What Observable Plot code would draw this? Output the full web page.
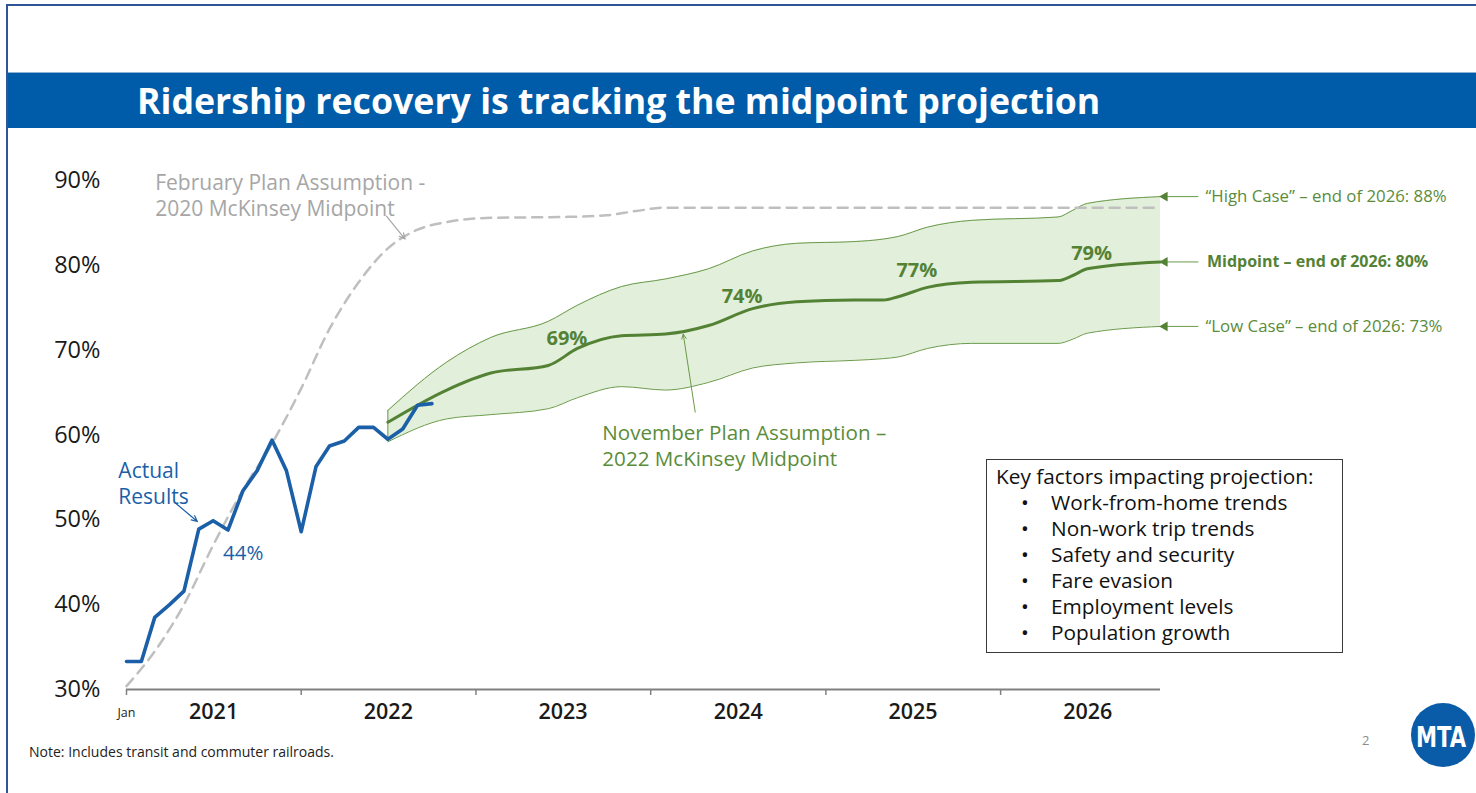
<!DOCTYPE html>
<html><head><meta charset="utf-8">
<script src="https://cdn.jsdelivr.net/npm/d3@7"></script>
<script src="https://cdn.jsdelivr.net/npm/@observablehq/plot@0.6"></script>
<style>
html,body{margin:0;padding:0;}
body{width:1476px;height:793px;overflow:hidden;background:#fff;position:relative;font-family:"Open Sans",sans-serif;}
.frame{position:absolute;left:6px;top:4px;width:1480px;height:800px;border-left:2px solid #2f5597;border-top:2px solid #2f5597;box-sizing:border-box;}
.titlebar{position:absolute;left:8px;top:72px;width:1468px;height:56px;background:#005ca9;border-top:1px solid #8fb3d3;box-sizing:border-box;}
.title{position:absolute;left:137px;top:72px;height:56px;line-height:56px;color:#fff;font-weight:700;font-size:35.7px;white-space:nowrap;}
#chart{position:absolute;left:0;top:140px;}
.key{position:absolute;left:986px;top:459px;width:357px;height:194px;border:1.5px solid #3a3a3a;box-sizing:border-box;font-size:20.8px;color:#111;padding-top:3px;line-height:26px;}
.key .h{margin-left:9px;}
.key .li{position:relative;padding-left:64px;}
.key .b{position:absolute;left:34px;}
.note{position:absolute;left:29px;top:743px;font-size:14px;line-height:18px;color:#222;}
.page{position:absolute;left:1362px;top:731px;font-size:13px;color:#8c8c8c;}
.logo{position:absolute;left:1405px;top:698px;}
</style>
</head><body>
<div class="frame"></div>
<div class="titlebar"></div>
<div class="title">Ridership recovery is tracking the midpoint projection</div>
<div id="chart"></div>
<div class="key">
  <div class="h">Key factors impacting projection:</div>
  <div class="li"><span class="b">•</span>Work-from-home trends</div>
  <div class="li"><span class="b">•</span>Non-work trip trends</div>
  <div class="li"><span class="b">•</span>Safety and security</div>
  <div class="li"><span class="b">•</span>Fare evasion</div>
  <div class="li"><span class="b">•</span>Employment levels</div>
  <div class="li"><span class="b">•</span>Population growth</div>
</div>
<div class="note">Note: Includes transit and commuter railroads.</div>
<div class="page">2</div>
<svg class="logo" width="71" height="75" viewBox="0 0 71 75">
  <circle cx="38" cy="37" r="32" fill="#0b5ca8"></circle>
  <text x="36" y="49" text-anchor="middle" fill="#fff" font-family="DejaVu Sans Condensed" font-weight="700" font-size="28" textLength="50" lengthAdjust="spacingAndGlyphs">MTA</text>
</svg>
<script>
// ---------- data ----------
const actualMonths = ["2021-01","2021-02","2021-03","2021-04","2021-05","2021-06","2021-07","2021-08","2021-09","2021-10","2021-11","2021-12",
                      "2022-01","2022-02","2022-03","2022-04","2022-05","2022-06","2022-07","2022-08","2022-09","2022-10"];
const actualValues = [33.3,33.3,38.5,40.0,41.6,48.9,49.9,48.8,53.4,55.8,59.4,55.8,
                      48.6,56.3,58.7,59.3,60.9,60.9,59.5,60.7,63.5,63.7];

const febPlanDates  = ["2021-01","2021-03","2021-05","2021-07","2021-09","2021-11","2022-01","2022-03","2022-05","2022-07","2022-09","2022-11","2023-02","2023-07","2023-10","2023-12","2024-02","2026-12"];
const febPlanValues = [30.4,34.5,40.0,47.0,53.5,59.0,65.5,72.5,78.0,82.0,84.2,85.1,85.6,85.7,85.9,86.4,86.8,86.8];

const novDates = ["2022-07","2022-11","2023-02","2023-06","2023-08","2023-11","2024-02","2024-05","2024-08","2024-11","2025-03","2025-05","2025-06","2025-08","2025-11","2026-05","2026-06","2026-07","2026-12"];
const novLow   = [59.2,61.9,62.4,63.1,64.4,65.7,65.3,66.2,67.9,68.5,68.8,69.0,69.2,70.2,70.8,70.8,71.3,72.0,72.8];
const novMid   = [61.5,65.3,67.3,68.2,70.2,71.7,71.9,72.9,74.9,75.7,75.9,75.9,76.3,77.4,78.0,78.2,78.8,79.6,80.4];
const novHigh  = [62.9,68.6,71.5,73.4,75.3,77.5,78.4,79.6,81.7,82.6,82.8,83.1,83.4,84.5,85.3,85.7,86.5,87.3,88.1];

const yearLabels = ["2021","2022","2023","2024","2025","2026"];
const yTicks = [30,40,50,60,70,80,90];

const annualYears  = ["2023","2024","2025","2026"];
const annualValues = [69,74,77,79];

const rightLabelTexts = ["“High Case” – end of 2026: 88%","Midpoint – end of 2026: 80%","“Low Case” – end of 2026: 73%"];

// ---------- tables ----------
const D = s => new Date((s.length === 7 ? s + "-01" : s) + "T00:00:00Z");
const actual = actualMonths.map((m,i) => ({date: D(m), value: actualValues[i]}));
const feb = febPlanDates.map((m,i) => ({date: D(m), value: febPlanValues[i]}));
const nov = novDates.map((m,i) => ({date: D(m), low: novLow[i], mid: novMid[i], high: novHigh[i]}));
const yearStarts = yearLabels.map(y => D(y + "-01"));
const yearMids = yearLabels.map(y => D(y + "-07-02"));
const annual = annualYears.map((y,i) => ({date: D(y + "-07-10"), value: annualValues[i], text: annualValues[i] + "%"}));
const endRow = nov[nov.length - 1];
const right = [
  {v: endRow.high, text: rightLabelTexts[0], bold: false},
  {v: endRow.mid,  text: rightLabelTexts[1], bold: true},
  {v: endRow.low,  text: rightLabelTexts[2], bold: false}
];
const off = n => d3.utcDay.offset(endRow.date, n);

const gray = "#bfbfbf", blue = "#1b5fa8", green = "#548235", greenLt = "#6a9a4a", greenTxt = "#5a8c3a";

const chart = Plot.plot({
  width: 1476, height: 600,
  marginLeft: 126, marginRight: 316, marginTop: 40, marginBottom: 51,
  x: {type: "utc", domain: [D("2021-01"), D("2026-12")], label: null},
  y: {domain: [30, 90], label: null},
  style: {fontFamily: "Open Sans", background: "transparent", overflow: "visible"},
  marks: [
    Plot.areaY(nov, {x: "date", y1: "low", y2: "high", fill: "#e2efda", curve: "monotone-x"}),
    Plot.lineY(nov, {x: "date", y: "high", stroke: greenLt, strokeWidth: 1, curve: "monotone-x"}),
    Plot.lineY(nov, {x: "date", y: "low", stroke: greenLt, strokeWidth: 1, curve: "monotone-x"}),
    Plot.ruleX(nov.slice(0, 1), {x: "date", y1: "low", y2: "high", stroke: greenLt, strokeWidth: 1}),
    Plot.lineY(feb, {x: "date", y: "value", stroke: gray, strokeWidth: 2.5, strokeDasharray: "10,7", curve: "monotone-x"}),
    Plot.lineY(nov, {x: "date", y: "mid", stroke: green, strokeWidth: 3, curve: "monotone-x"}),
    Plot.lineY(actual, {x: "date", y: "value", stroke: blue, strokeWidth: 3.6, strokeLinejoin: "round"}),

    // axes
    Plot.ruleY([30], {stroke: "#808080", strokeWidth: 2}),
    Plot.axisX({ticks: yearStarts, tickSize: 6, tickFormat: () => "", stroke: "#808080", strokeWidth: 1.5, label: null}),
    Plot.axisX({ticks: yearMids, tickSize: 0, tickPadding: 14, tickFormat: d => String(d.getUTCFullYear()), fontSize: 21.5, fontWeight: 600, fill: "#1a1a1a", label: null}),
    Plot.axisY({ticks: yTicks, tickSize: 0, tickPadding: 26, tickFormat: d => d + "%", fontSize: 23.5, fill: "#1a1a1a", label: null}),
    Plot.text([{date: yearStarts[0], v: 30, t: "Jan"}], {x: "date", y: "v", text: "t", dy: 23, fontSize: 12.5, fill: "#222"}),

    // annotations
    Plot.text([{date: D("2021-03-02"), v: 88.3, t: "February Plan Assumption -\n2020 McKinsey Midpoint"}],
      {x: "date", y: "v", text: "t", textAnchor: "start", lineAnchor: "middle", lineHeight: 1.2, fontSize: 21, fill: "#a6a6a6"}),
    Plot.arrow([{x1: D("2022-06-28"), y1: 85.8, x2: D("2022-08-06"), y2: 83.1}],
      {x1: "x1", y1: "y1", x2: "x2", y2: "y2", stroke: "#a6a6a6", strokeWidth: 1.2, headLength: 8, headAngle: 50}),
    Plot.text([{date: D("2020-12-15"), v: 54.4, t: "Actual\nResults"}],
      {x: "date", y: "v", text: "t", textAnchor: "start", lineAnchor: "middle", lineHeight: 1.22, fontSize: 21, fill: blue}),
    Plot.arrow([{x1: D("2021-04-15"), y1: 51.9, x2: D("2021-05-29"), y2: 49.8}],
      {x1: "x1", y1: "y1", x2: "x2", y2: "y2", stroke: blue, strokeWidth: 1.2, headLength: 8, headAngle: 50}),
    Plot.text([{date: D("2021-09-02"), v: 44, t: "44%"}],
      {x: "date", y: "v", text: "t", dy: -17, fontSize: 20.5, fill: blue}),
    Plot.text([{date: D("2023-09-22"), v: 58.9, t: "November Plan Assumption –\n2022 McKinsey Midpoint"}],
      {x: "date", y: "v", text: "t", textAnchor: "start", lineAnchor: "middle", lineHeight: 1.27, fontSize: 20.6, fill: greenTxt}),
    Plot.arrow([{x1: D("2024-04-03"), y1: 62.7, x2: D("2024-03-09"), y2: 71.9}],
      {x1: "x1", y1: "y1", x2: "x2", y2: "y2", stroke: greenLt, strokeWidth: 1, headLength: 8, headAngle: 50}),
    Plot.text(annual, {x: "date", y: "value", text: "text", dy: -20, fontSize: 20, fontWeight: 700, fill: green}),

    // right-side end labels
    Plot.link(right, {x1: () => off(79), x2: () => off(10), y1: "v", y2: "v", stroke: greenLt, strokeWidth: 1}),
    Plot.dot(right, {x: () => off(9), y: "v", symbol: "triangle", r: 3.6, rotate: -90, fill: green, stroke: "none"}),
    Plot.text(right.filter(d => !d.bold), {x: () => off(94), y: "v", text: "text", textAnchor: "start", fontSize: 16.8, fill: greenTxt}),
    Plot.text(right.filter(d => d.bold), {x: () => off(97), y: "v", text: "text", textAnchor: "start", fontSize: 16, fontWeight: 700, fill: green})
  ]
});
document.getElementById("chart").appendChild(chart);
</script>
</body></html>
